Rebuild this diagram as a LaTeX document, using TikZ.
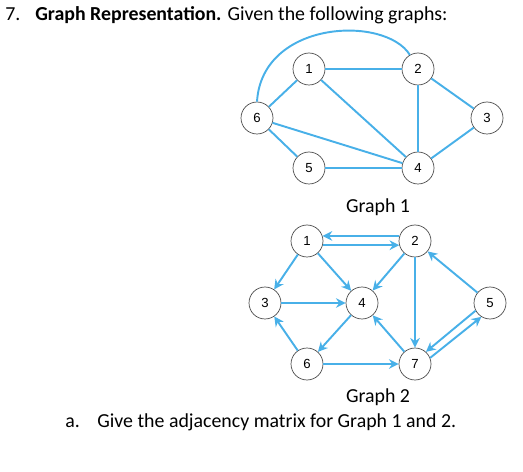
\documentclass[tikz,border=0pt]{standalone}
\usepackage{fontspec}
\setmainfont{Carlito}
\setsansfont{Liberation Sans}
\usetikzlibrary{arrows.meta}
\definecolor{edgeblue}{RGB}{72,176,232}
\begin{document}
\begin{tikzpicture}[
	x=0.02cm, y=-0.02cm,
	vertex/.style={ circle, draw=black!70, thin, fill=white, inner sep=0pt, minimum size=0.64cm, font=\sffamily\fontsize{7.5}{8}\selectfont },
	edge/.style={ edgeblue, line width=1.1pt },
	arc/.style={ edgeblue, line width=1.1pt, -{Stealth[length=5.5pt,width=5.5pt]} },
	txt/.style={ inner sep=0pt, font=\fontsize{11.3}{13}\selectfont }
]
\useasboundingbox (0,0) rectangle (523,472);

% heading and captions
\node at (5,15) (title) [txt,anchor=west] {\makebox[0.6cm][l]{7.}\textbf{Graph Representation.} Given the following graphs:};
\node at (378,207) (cap1) [txt] {Graph 1};
\node at (378,397) (cap2) [txt] {Graph 2};
\node at (65,422) (qa) [txt,anchor=west] {\makebox[0.64cm][l]{a.}Give the adjacency matrix for Graph 1 and 2.};

% graph 1
\node at (309,69) (a1) [vertex] {1};
\node at (418,69) (a2) [vertex] {2};
\node at (487,118) (a3) [vertex] {3};
\node at (418,168) (a4) [vertex] {4};
\node at (309,168) (a5) [vertex] {5};
\node at (257,118) (a6) [vertex] {6};
\draw[edge] (a1) -- (a2);
\draw[edge] (a1) -- (a6);
\draw[edge] (a1) -- (a4);
\draw[edge] (a2) -- (a3);
\draw[edge] (a2) -- (a4);
\draw[edge] (a3) -- (a4);
\draw[edge] (a6) -- (a4);
\draw[edge] (a6) -- (a5);
\draw[edge] (a5) -- (a4);
\draw[edge] (a6.north) .. controls (262,20) and (385,15) .. (a2.120);

% graph 2
\node at (307,241) (b1) [vertex] {1};
\node at (415,241) (b2) [vertex] {2};
\node at (265,303) (b3) [vertex] {3};
\node at (362,303) (b4) [vertex] {4};
\node at (490,303) (b5) [vertex] {5};
\node at (307,364) (b6) [vertex] {6};
\node at (415,364) (b7) [vertex] {7};
\draw[arc] (b2.162) -- (b1.18);
\draw[arc] (b1.-15) -- (b2.195);
\draw[arc] (b1) -- (b3);
\draw[arc] (b1) -- (b4);
\draw[arc] (b2) -- (b4);
\draw[arc] (b2) -- (b7);
\draw[arc] (b3) -- (b4);
\draw[arc] (b4) -- (b6);
\draw[arc] (b6) -- (b3);
\draw[arc] (b6) -- (b7);
\draw[arc] (b7) -- (b4);
\draw[arc] (b5) -- (b2);
\draw[arc] (b5.208) -- (b7.48);
\draw[arc] (b7.22) -- (b5.238);

\end{tikzpicture}
\end{document}
